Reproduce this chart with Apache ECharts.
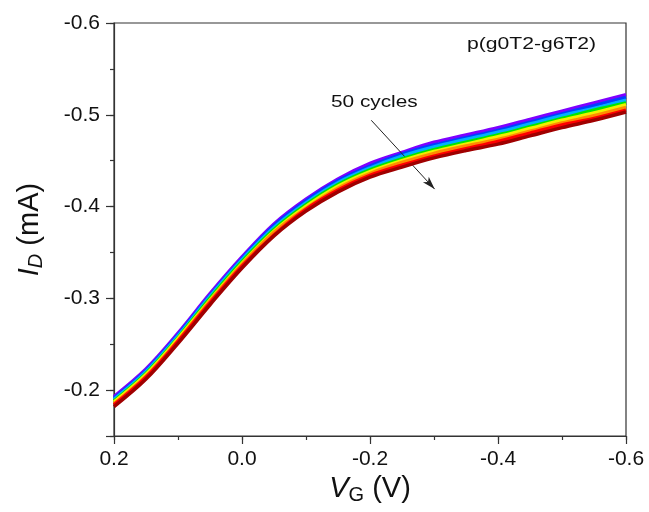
<!DOCTYPE html>
<html>
<head>
<meta charset="utf-8">
<script src="https://cdn.jsdelivr.net/npm/echarts@6/dist/echarts.min.js"></script>
<style>
  html, body { margin: 0; padding: 0; background: #fff; }
  #chart { width: 649px; height: 512px; }
</style>
</head>
<body>
<div id="chart"></div>
<script>
// gate voltage (V), same for every cycle
const vg = [0.2, 0.15, 0.1, 0.05, 0, -0.05, -0.1, -0.15, -0.2, -0.25, -0.3, -0.35, -0.4, -0.45, -0.5, -0.55, -0.6]

// drain current (mA), one colour strip of the 50-cycle bundle each (first cycle = violet)
const idViolet = [-0.193, -0.223, -0.262, -0.305, -0.345, -0.381, -0.408, -0.430, -0.447, -0.459, -0.470, -0.478, -0.486, -0.495, -0.504, -0.513, -0.522]
const idBlue   = [-0.191, -0.221, -0.260, -0.303, -0.343, -0.379, -0.406, -0.428, -0.444, -0.457, -0.467, -0.475, -0.483, -0.492, -0.501, -0.510, -0.519]
const idCyan   = [-0.190, -0.220, -0.259, -0.302, -0.342, -0.377, -0.404, -0.426, -0.442, -0.455, -0.465, -0.473, -0.481, -0.490, -0.499, -0.507, -0.516]
const idGreen  = [-0.188, -0.218, -0.257, -0.300, -0.340, -0.375, -0.402, -0.424, -0.440, -0.452, -0.462, -0.470, -0.478, -0.487, -0.496, -0.505, -0.513]
const idYellow = [-0.187, -0.217, -0.256, -0.298, -0.338, -0.373, -0.400, -0.422, -0.438, -0.450, -0.460, -0.468, -0.476, -0.485, -0.494, -0.502, -0.511]
const idOrange = [-0.185, -0.215, -0.254, -0.297, -0.337, -0.372, -0.398, -0.420, -0.436, -0.448, -0.458, -0.466, -0.473, -0.482, -0.491, -0.499, -0.508]
const idRed    = [-0.184, -0.214, -0.253, -0.295, -0.335, -0.369, -0.397, -0.418, -0.434, -0.445, -0.455, -0.463, -0.471, -0.480, -0.489, -0.496, -0.505]
const idDark   = [-0.182, -0.212, -0.251, -0.293, -0.333, -0.368, -0.395, -0.416, -0.432, -0.443, -0.453, -0.461, -0.468, -0.477, -0.486, -0.494, -0.503]

const strips = [
  { data: idViolet, color: '#7f00ff' },
  { data: idBlue, color: '#0040ff' },
  { data: idCyan, color: '#00b0ff' },
  { data: idGreen, color: '#00e600' },
  { data: idYellow, color: '#f0f000' },
  { data: idOrange, color: '#ff8c00' },
  { data: idRed, color: '#ff0000' },
  { data: idDark, color: '#a00000' }
]

// arrow "50 cycles" in data coordinates [VG, ID]
const arrowFrom = [-0.202, -0.494]
const arrowTo = [-0.301, -0.419]

const FONT = 'Liberation Sans, Arial, sans-serif'
const AXIS_COLOR = '#333'

const chart = echarts.init(document.getElementById('chart'), null, { renderer: 'canvas' })

const series = strips.map((s, i) => ({
  type: 'line',
  xAxisIndex: 0,
  yAxisIndex: 0,
  data: vg.map((x, k) => [x, s.data[k]]),
  showSymbol: false,
  smooth: 0.35,
  lineStyle: { color: s.color, width: 3.5 },
  silent: true,
  z: 2 + i
}))

// arrow annotation
series[0].markLine = {
  silent: true,
  symbol: ['none', 'arrow'],
  symbolSize: [6, 13],
  label: { show: false },
  lineStyle: { color: '#222', width: 1, type: 'solid' },
  data: [[{ coord: arrowFrom }, { coord: arrowTo }]]
}

const tickStyle = { color: AXIS_COLOR, width: 1.2 }

const option = {
  animation: false,
  backgroundColor: '#fff',
  textStyle: { fontFamily: FONT },
  grid: {
    left: 114, right: 23, top: 23, bottom: 76,
    show: true, borderColor: AXIS_COLOR, borderWidth: 1.2
  },
  xAxis: [
    {
      type: 'value', position: 'bottom',
      min: -0.6, max: 0.2, interval: 0.2, inverse: true,
      axisLine: { show: true, onZero: false, lineStyle: tickStyle },
      axisTick: { show: true, inside: false, length: 8, lineStyle: tickStyle },
      splitLine: { show: false },
      axisLabel: {
        color: '#111', fontSize: 21, fontFamily: FONT, margin: 13,
        formatter: v => v.toFixed(1)
      },
      name: '{v|V}{sub|G}{n| (V)}',
      nameLocation: 'middle',
      nameGap: 36,
      nameTextStyle: {
        rich: {
          v: { fontSize: 29, fontStyle: 'italic', fontFamily: FONT, color: '#111' },
          sub: { fontSize: 20, fontFamily: FONT, color: '#111', padding: [13, 0, 0, 0] },
          n: { fontSize: 29, fontFamily: FONT, color: '#111' }
        }
      }
    },
    {
      type: 'value', position: 'bottom',
      min: -0.6, max: 0.2, interval: 0.1, inverse: true,
      axisLine: { show: false, onZero: false },
      axisTick: { show: true, inside: false, length: 4, lineStyle: tickStyle },
      splitLine: { show: false },
      axisLabel: { show: false }
    }
  ],
  yAxis: [
    {
      type: 'value', position: 'left',
      min: -0.6, max: -0.15, interval: 0.1, inverse: true,
      axisLine: { show: true, onZero: false, lineStyle: tickStyle },
      axisTick: { show: true, inside: false, length: 8, lineStyle: tickStyle },
      splitLine: { show: false },
      axisLabel: {
        color: '#111', fontSize: 21, fontFamily: FONT, margin: 14,
        formatter: v => (Math.abs(v * 10 - Math.round(v * 10)) < 1e-6 ? v.toFixed(1) : '')
      },
      name: '{i|I}{sub|D}{n| (mA)}',
      nameLocation: 'middle',
      nameGap: 68,
      nameTextStyle: {
        rich: {
          i: { fontSize: 29, fontStyle: 'italic', fontFamily: FONT, color: '#111' },
          sub: { fontSize: 20, fontStyle: 'italic', fontFamily: FONT, color: '#111', padding: [13, 0, 0, 0] },
          n: { fontSize: 29, fontFamily: FONT, color: '#111' }
        }
      }
    },
    {
      type: 'value', position: 'left',
      min: -0.6, max: -0.15, interval: 0.05, inverse: true,
      axisLine: { show: false, onZero: false },
      axisTick: { show: true, inside: false, length: 4, lineStyle: tickStyle },
      splitLine: { show: false },
      axisLabel: { show: false }
    }
  ],
  graphic: [
    {
      type: 'text', x: 467, y: 37, scaleX: 1.32, silent: true,
      style: { text: 'p(g0T2-g6T2)', fontSize: 16, fontFamily: FONT, fill: '#111' }
    },
    {
      type: 'text', x: 331, y: 95, scaleX: 1.3, silent: true,
      style: { text: '50 cycles', fontSize: 16, fontFamily: FONT, fill: '#111' }
    }
  ],
  series
}

chart.setOption(option)
</script>
</body>
</html>
